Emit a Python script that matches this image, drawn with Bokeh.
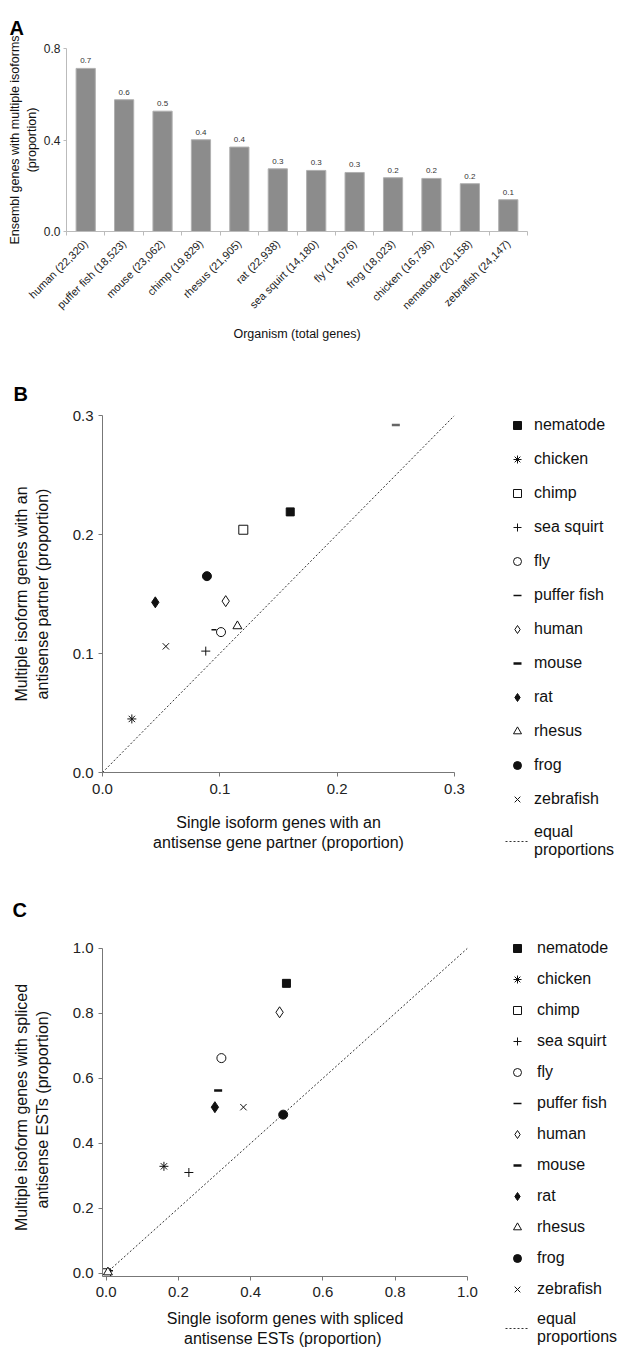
from math import pi
from bokeh.plotting import figure
from bokeh.layouts import column, row
from bokeh.models import (ColumnDataSource, FixedTicker, Range1d, PrintfTickFormatter,
                          Legend, LegendItem)
from bokeh.embed import file_html
from bokeh.resources import INLINE
from bokeh.core.properties import value

FONT = "Liberation Sans"

# ---------------- Panel A data ----------------
organisms_a = ["human", "puffer fish", "mouse", "chimp", "rhesus", "rat",
               "sea squirt", "fly", "frog", "chicken", "nematode", "zebrafish"]
total_genes = ["22,320", "18,523", "23,062", "19,829", "21,905", "22,938",
               "14,180", "14,076", "18,023", "16,736", "20,158", "24,147"]
multi_isoform_prop = [0.713, 0.576, 0.526, 0.401, 0.369, 0.274,
                      0.267, 0.258, 0.235, 0.232, 0.209, 0.139]
a_yticks = [0.0, 0.4, 0.8]

# ---------------- Panels B / C data ----------------
species = ["nematode", "chicken", "chimp", "sea squirt", "fly", "puffer fish",
           "human", "mouse", "rat", "rhesus", "frog", "zebrafish"]
b_single = [0.160, 0.025, 0.120, 0.088, 0.101, 0.095, 0.105, 0.250, 0.045, 0.115, 0.089, 0.054]
b_multi = [0.219, 0.045, 0.204, 0.102, 0.118, 0.120, 0.144, 0.292, 0.143, 0.123, 0.165, 0.106]
b_ticks = [0.0, 0.1, 0.2, 0.3]
c_single = [0.499, 0.160, 0.000, 0.229, 0.319, 0.012, 0.480, 0.310, 0.301, 0.005, 0.490, 0.380]
c_multi = [0.892, 0.329, 0.000, 0.310, 0.662, 0.008, 0.803, 0.562, 0.511, 0.003, 0.488, 0.511]
c_ticks = [0.0, 0.2, 0.4, 0.6, 0.8, 1.0]
equal_label = "equal\nproportions"

INK = "#111111"
STYLE = {
    "nematode": dict(marker="square", size=8, fill_color=INK, line_width=1),
    "chicken": dict(marker="asterisk", size=9, fill_color=None, line_width=1),
    "chimp": dict(marker="square", size=9, fill_color="white", line_width=1),
    "sea squirt": dict(marker="cross", size=9, fill_color=None, line_width=1),
    "fly": dict(marker="circle", size=9, fill_color="white", line_width=1),
    "puffer fish": dict(marker="dash", size=5, fill_color=None, line_width=1.5),
    "human": dict(marker="diamond", size=11, fill_color="white", line_width=1),
    "mouse": dict(marker="dash", size=8, fill_color=None, line_width=2.5),
    "rat": dict(marker="diamond", size=11, fill_color=INK, line_width=1),
    "rhesus": dict(marker="triangle", size=9, fill_color="white", line_width=1),
    "frog": dict(marker="circle", size=9, fill_color=INK, line_width=1),
    "zebrafish": dict(marker="x", size=9, fill_color=None, line_width=1),
}


def style_axis(ax, color, tick_size, label_size, tick_out=4):
    ax.axis_line_color = color
    ax.major_tick_line_color = color
    ax.minor_tick_line_color = None
    ax.major_tick_in = 0
    ax.major_tick_out = tick_out
    ax.major_label_text_font = FONT
    ax.major_label_text_font_size = tick_size
    ax.major_label_text_color = "#222222"
    ax.axis_label_text_font = FONT
    ax.axis_label_text_font_size = label_size
    ax.axis_label_text_font_style = "normal"
    ax.axis_label_text_color = "#111111"


def letter_title(p, letter, offset, standoff):
    p.title.text = letter
    p.title.align = "left"
    p.title.offset = offset
    p.title.standoff = standoff
    p.title.text_font = FONT
    p.title.text_font_size = "20px"
    p.title.text_font_style = "bold"
    p.title.text_color = "#000000"


# ---------------- Panel A ----------------
xa = list(range(len(organisms_a)))
a_labels = [f"{o} ({g})" for o, g in zip(organisms_a, total_genes)]
a_text = [f"{v:.1f}" for v in multi_isoform_prop]
srcA = ColumnDataSource(dict(x=xa, top=multi_isoform_prop, txt=a_text))

pA = figure(frame_width=461, frame_height=183, min_border_left=66, min_border_right=97,
            min_border_top=48, min_border_bottom=117,
            x_range=Range1d(-0.5, len(xa) - 0.5), y_range=Range1d(a_yticks[0], a_yticks[-1]),
            output_backend="svg", toolbar_location=None)
pA.outline_line_color = None
pA.grid.visible = False
pA.vbar(x="x", top="top", bottom=0, width=0.5, source=srcA,
        fill_color="#8c8c8c", line_color="#b0b0b0", line_width=1)
pA.text(x="x", y="top", text="txt", source=srcA, text_align="center",
        text_baseline="bottom", y_offset=-5, text_font=value(FONT),
        text_font_size="8px", text_color="#333333")

xax = pA.xaxis[0]
style_axis(xax, "#bbbbbb", "11px", "12.5px", tick_out=0)
xax.ticker = FixedTicker(ticks=xa, minor_ticks=[i - 0.5 for i in range(len(xa) + 1)])
xax.major_label_overrides = {i: lab for i, lab in zip(xa, a_labels)}
xax.major_label_orientation = pi / 4
xax.minor_tick_line_color = "#bbbbbb"
xax.minor_tick_in = 0
xax.minor_tick_out = 4
xax.major_label_standoff = 6
xax.axis_label = "Organism (total genes)"
xax.axis_label_standoff = 8

yax = pA.yaxis[0]
style_axis(yax, "#bbbbbb", "12px", "12.5px", tick_out=3)
yax.ticker = FixedTicker(ticks=a_yticks)
yax.formatter = PrintfTickFormatter(format="%.1f")
yax.major_label_standoff = 3
yax.axis_label = "Ensembl genes with multiple isoforms\n(proportion)"
yax.axis_label_standoff = 2
letter_title(pA, "A", -57, 19)


# ---------------- Scatter panels ----------------
def scatter_panel(xv, yv, ticks, xr, yr, fw, fh, mbl, mbr, mbt, mbb, xlabel, ylabel,
                  letter, loff, lstand, mouse_color, tick_standoff, xl_standoff):
    p = figure(frame_width=fw, frame_height=fh, min_border_left=mbl, min_border_right=mbr,
               min_border_top=mbt, min_border_bottom=mbb,
               x_range=Range1d(*xr), y_range=Range1d(*yr),
               output_backend="svg", toolbar_location=None)
    p.outline_line_color = None
    p.grid.visible = False
    p.line(x=[ticks[0], ticks[-1]], y=[ticks[0], ticks[-1]], line_dash="2 2",
           line_color="#333333", line_width=1)
    for name, x, y in zip(species, xv, yv):
        st = dict(STYLE[name])
        col = mouse_color if name == "mouse" else INK
        p.scatter(x=[x], y=[y], line_color=col, **st)
    for ax in (p.xaxis[0], p.yaxis[0]):
        style_axis(ax, "#777777", "15px", "16px")
        ax.ticker = FixedTicker(ticks=ticks)
        ax.formatter = PrintfTickFormatter(format="%.1f")
        ax.major_label_standoff = 5
    p.xaxis[0].major_label_standoff = tick_standoff
    p.yaxis[0].bounds = (yr[0], ticks[-1])
    p.xaxis[0].axis_label = xlabel
    p.yaxis[0].axis_label = ylabel
    p.xaxis[0].axis_label_standoff = xl_standoff
    p.yaxis[0].axis_label_standoff = 19
    letter_title(p, letter, loff, lstand)
    return p


def legend_fig(xv, yv, ticks, fh, mbt, spacing, standoff):
    lf = figure(frame_width=119, frame_height=fh, min_border_left=0, min_border_right=0,
                min_border_top=mbt, min_border_bottom=0,
                x_range=Range1d(-3, -2), y_range=Range1d(-3, -2),
                x_axis_location=None, y_axis_location=None,
                output_backend="svg", toolbar_location=None)
    lf.outline_line_color = None
    lf.grid.visible = False
    items = []
    for name, x, y in zip(species, xv, yv):
        r = lf.scatter(x=[x], y=[y], line_color=INK, **STYLE[name])
        items.append(LegendItem(label=name, renderers=[r]))
    rl = lf.line(x=[ticks[0], ticks[-1]], y=[ticks[0], ticks[-1]], line_dash="2 2",
                 line_color="#333333", line_width=1)
    items.append(LegendItem(label=equal_label, renderers=[rl]))
    leg = Legend(items=items, location="top_left", margin=0, padding=0, spacing=spacing,
                 glyph_width=24, glyph_height=20, label_height=20, label_standoff=standoff,
                 label_text_font=FONT, label_text_font_size="16px",
                 label_text_color="#111111", label_text_line_height=1.05,
                 border_line_color=None, background_fill_alpha=0)
    lf.add_layout(leg)
    return lf


pB = scatter_panel(b_single, b_multi, b_ticks, (b_ticks[0], b_ticks[-1]),
                   (b_ticks[0], b_ticks[-1]),
                   352, 357, 102, 51, 67, 88,
                   "Single isoform genes with an\nantisense gene partner (proportion)",
                   "Multiple isoform genes with an\nantisense partner (proportion)",
                   "B", -89, 22, "#666666", 7, 17)
legB = legend_fig(b_single, b_multi, b_ticks, 445, 67, 14, 5)

pC = scatter_panel(c_single, c_multi, c_ticks, (-0.01, c_ticks[-1]), (-0.01, 1.03),
                   365, 338, 102, 38, 78, 76,
                   "Single isoform genes with spliced\nantisense ESTs  (proportion)",
                   "Multiple isoform genes with spliced\nantisense ESTs  (proportion)",
                   "C", -90, 36, INK, 6, 10)
legC = legend_fig(c_single, c_multi, c_ticks, 414, 78, 11, 8)

layout = column(pA, row(pB, legB), row(pC, legC))

with open("out.html", "w") as f:
    f.write(file_html(layout, INLINE))
